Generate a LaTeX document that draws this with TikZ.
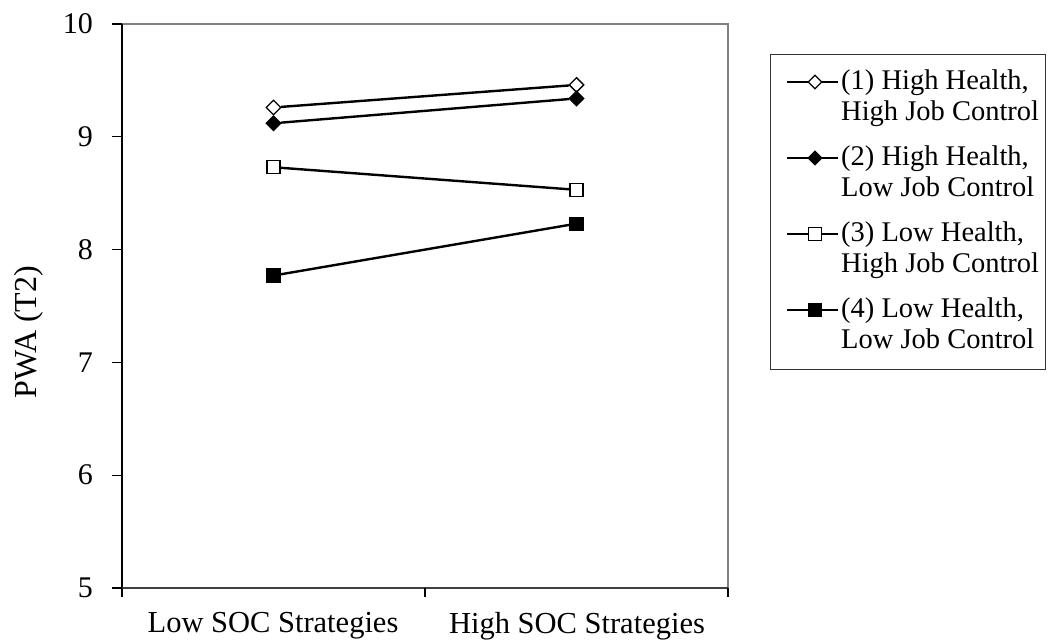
\documentclass[tikz,border=0pt]{standalone}
\usepackage{fontspec}
\setmainfont{Liberation Serif}
\usetikzlibrary{shapes.geometric}

\begin{document}
\begin{tikzpicture}[x=1pt, y=1pt,
    lab/.style={font=\fontsize{30}{32}\selectfont, inner sep=0pt},
    catlab/.style={font=\fontsize{30.5}{32}\selectfont, inner sep=0pt},
    leglab/.style={font=\fontsize{28.5}{31}\selectfont, inner sep=0pt, anchor=north west, align=left},
    markbase/.style={draw, line width=1.3pt, inner sep=0pt},
    dia/.style={markbase, diamond, minimum width=15pt, minimum height=15pt},
    sq/.style={markbase, rectangle, minimum size=13pt},
    smalldia/.style={markbase, diamond, minimum width=14pt, minimum height=14pt},
    smallsq/.style={markbase, rectangle, minimum size=12.5pt},
    plotline/.style={line width=2.4pt},
  ]
    \useasboundingbox (0,0) rectangle (1049,643);

    % Plot area
    \draw[gray, line width=1.5pt] (122,619) -- (728,619) -- (728,55);
    \draw[line width=1.5pt] (122,619) -- (122,55);
    \draw[black!75, line width=1.5pt] (122,55) -- (728,55);

    % y ticks and labels
    \foreach \v in {5,...,10} {
      \draw[line width=1.2pt] (112,{55+(\v-5)*112.8}) -- (122,{55+(\v-5)*112.8});
      \node[lab, anchor=east] (y\v) at (93,{55+(\v-5)*112.8}) {\v};
    }

    % x ticks and labels
    \foreach \x in {122,425,728} \draw[line width=1.2pt] (\x,55) -- (\x,46);
    \node[catlab, anchor=north] (lowsoc) at (273,31) {Low SOC Strategies};
    \node[catlab, anchor=north] (highsoc) at (577,31) {High SOC Strategies};

    % Axis title
    \node[font=\fontsize{32}{34}\selectfont, inner sep=0pt, rotate=90] (pwa) at (29,311) {PWA (T2)};

    % Data
    \begin{scope}[shift={(122,-509)}, x=303pt, y=112.8pt]
      \node[dia, fill=white] (a1) at (0.5,9.26) {};
      \node[dia, fill=white] (a2) at (1.5,9.46) {};
      \node[dia, fill=black] (b1) at (0.5,9.12) {};
      \node[dia, fill=black] (b2) at (1.5,9.34) {};
      \node[sq, fill=white] (c1) at (0.5,8.73) {};
      \node[sq, fill=white] (c2) at (1.5,8.53) {};
      \node[sq, fill=black] (d1) at (0.5,7.77) {};
      \node[sq, fill=black] (d2) at (1.5,8.23) {};
      \draw[plotline] (a1) -- (a2);
      \draw[plotline] (b1) -- (b2);
      \draw[plotline] (c1) -- (c2);
      \draw[plotline] (d1) -- (d2);
    \end{scope}

    % Legend
    \draw[black!80, line width=1pt] (770,588) rectangle (1045,273);

    \coordinate (l1a) at (787,561); \coordinate (l1b) at (838,561);
    \draw[line width=2.3pt] (l1a) -- (l1b);
    \node[smalldia, fill=white] (m1) at (815,561) {};
    \node[leglab] (t1) at (841,573.7) {(1) High Health,\\High Job Control};

    \coordinate (l2a) at (787,485); \coordinate (l2b) at (838,485);
    \draw[line width=2.3pt] (l2a) -- (l2b);
    \node[smalldia, fill=black] (m2) at (815,485) {};
    \node[leglab] (t2) at (841,497.7) {(2) High Health,\\Low Job Control};

    \coordinate (l3a) at (787,409); \coordinate (l3b) at (838,409);
    \draw[line width=2.3pt] (l3a) -- (l3b);
    \node[smallsq, fill=white] (m3) at (815,409) {};
    \node[leglab] (t3) at (841,421.7) {(3) Low Health,\\High Job Control};

    \coordinate (l4a) at (787,333); \coordinate (l4b) at (838,333);
    \draw[line width=2.3pt] (l4a) -- (l4b);
    \node[smallsq, fill=black] (m4) at (815,333) {};
    \node[leglab] (t4) at (841,345.7) {(4) Low Health,\\Low Job Control};
\end{tikzpicture}
\end{document}
